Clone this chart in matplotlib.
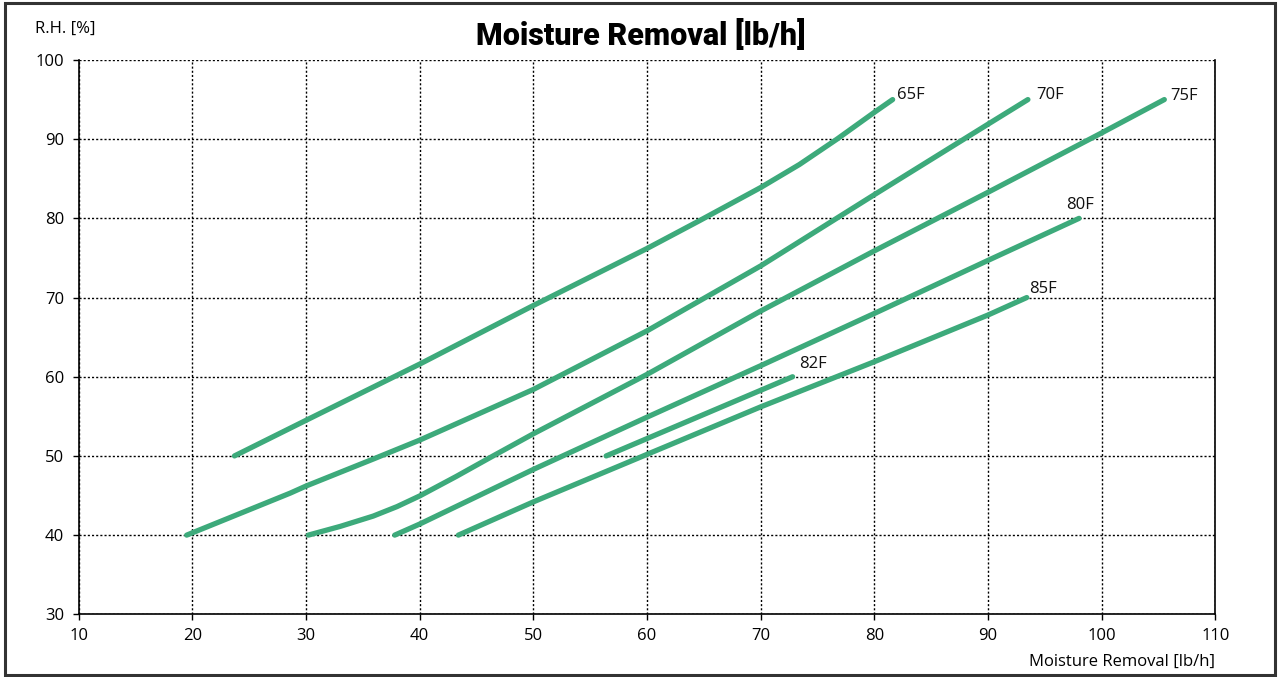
import matplotlib
matplotlib.use("Agg")
import matplotlib.pyplot as plt
from matplotlib.patches import Rectangle

# ---- data ----
labels = ["65F", "70F", "75F", "80F", "82F", "85F"]

x_65 = [23.7, 30, 40, 50, 60, 64.6, 70, 73.4, 76.7, 80, 81.6]
y_65 = [50, 54.5, 61.6, 69.0, 76.2, 79.7, 83.9, 86.8, 90.0, 93.4, 95]

x_70 = [19.5, 28.6, 30, 35.9, 40, 50, 60, 70, 80, 90, 93.5]
y_70 = [40, 45.3, 46.2, 49.6, 52.0, 58.4, 65.8, 74.0, 83.0, 91.9, 95]

x_75 = [30.2, 33.0, 35.9, 38.0, 40, 43.2, 46.2, 50, 60, 70, 80, 90, 100, 105.5]
y_75 = [40, 41.1, 42.4, 43.6, 44.95, 47.4, 49.8, 52.8, 60.3, 68.3, 75.9, 83.3, 90.8, 95]

x_80 = [37.8, 40, 50, 60, 70, 80, 90, 98]
y_80 = [40, 41.4, 48.3, 54.9, 61.4, 68.0, 74.7, 80]

x_82 = [56.4, 72.8]
y_82 = [50, 60]

x_85 = [43.4, 50, 60, 70, 80, 90, 93.4]
y_85 = [40, 44.2, 50.2, 56.2, 61.9, 67.8, 70]

xticks = [10, 20, 30, 40, 50, 60, 70, 80, 90, 100, 110]
yticks = [30, 40, 50, 60, 70, 80, 90, 100]

series_x = [x_65, x_70, x_75, x_80, x_82, x_85]
series_y = [y_65, y_70, y_75, y_80, y_82, y_85]

# label offsets (pixels) from each curve's end point
label_offsets = [(4, 5), (8, 5), (6, 4), (-13, 13), (7, 13), (2, 9)]

FONT = ["Open Sans", "DejaVu Sans"]
plt.rcParams["font.family"] = FONT
LINE_COLOR = "#3DAA7B"

fig = plt.figure(figsize=(12.82, 6.77), dpi=100)
ax = fig.add_axes([0.0614, 0.0926, 0.8867, 0.8188])

for xs, ys, lab, off in zip(series_x, series_y, labels, label_offsets):
    ax.plot(xs, ys, color=LINE_COLOR, lw=3.8, solid_capstyle="round",
            solid_joinstyle="round", zorder=3)
    ax.annotate(lab, xy=(xs[-1], ys[-1]), xytext=off, textcoords="offset pixels",
                ha="left", va="center", fontsize=12, color="#111111", zorder=4)

ax.set_xlim(10, 110)
ax.set_ylim(30, 100)
ax.set_xticks(xticks)
ax.set_yticks(yticks)
ax.tick_params(axis="both", direction="out", length=4.5, width=1, labelsize=12,
               colors="black")
ax.tick_params(axis="y", pad=6)
ax.tick_params(axis="x", pad=5)
ax.grid(True, color="black", linestyle=(0, (1.5, 1.5)), linewidth=1)
ax.set_axisbelow(True)
ax.spines["top"].set_visible(False)
for s in ["left", "bottom", "right"]:
    ax.spines[s].set_linewidth(1.2)
    ax.spines[s].set_color("black")

fig.text(0.5, 1 - 35 / 677, "Moisture Removal [lb/h]", ha="center", va="center",
         fontsize=22, fontweight="black", family=["Roboto", "DejaVu Sans"])
fig.text(35 / 1282, 1 - 29 / 677, "R.H. [%]", ha="left", va="center", fontsize=12)
fig.text(1215 / 1282, 1 - 662 / 677, "Moisture Removal [lb/h]", ha="right", va="center",
         fontsize=12)

fig.patches.append(Rectangle((5 / 1282, 2 / 677), 1270 / 1282, 672 / 677,
                             transform=fig.transFigure, fill=False,
                             edgecolor="#333333", linewidth=2.2, zorder=10))

fig.savefig("out.png", dpi=100)
